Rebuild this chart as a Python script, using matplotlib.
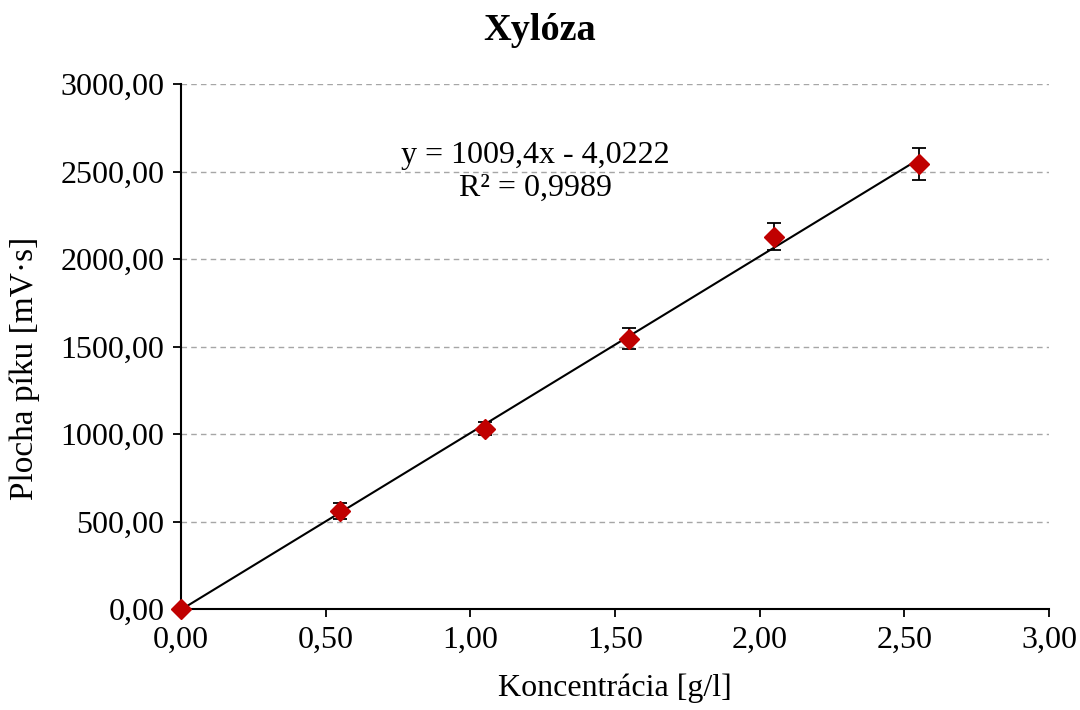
import matplotlib
matplotlib.use("Agg")
import matplotlib.pyplot as plt
import numpy as np

# data
conc = [0.0, 0.55, 1.05, 1.55, 2.05, 2.55]
area = [0.0, 560.0, 1029.0, 1543.0, 2126.0, 2543.0]
err = [0.0, 43.0, 37.0, 60.0, 77.0, 89.0]

slope = 1009.4
intercept = -4.0222
r2_text = "0,9989"

x_ticks = [0.0, 0.5, 1.0, 1.5, 2.0, 2.5, 3.0]
y_ticks = [0, 500, 1000, 1500, 2000, 2500, 3000]

plt.rcParams["font.family"] = ["Liberation Serif", "DejaVu Serif"]


def comma(v, _=None):
    return f"{v:.2f}".replace(".", ",")


fig = plt.figure(figsize=(10.8, 7.1), dpi=100)
ax = fig.add_axes([181 / 1080, 1 - 609 / 710, (1049 - 181) / 1080, (609 - 84) / 710])

for yt in y_ticks[1:]:
    ax.axhline(yt, color="#a6a6a6", linestyle=(0, (4, 3)), linewidth=1.0, zorder=0)

fit_x = np.array([0.0, conc[-1]])
ax.plot(fit_x, slope * fit_x + intercept, color="black", linewidth=1.5, zorder=2)

ax.errorbar(conc, area, yerr=err, fmt="none", ecolor="black", elinewidth=1.3,
            capsize=5, capthick=1.3, zorder=3)
ax.plot(conc, area, linestyle="none", marker="D", markersize=10,
        color="#c00000", zorder=4, clip_on=False)

ax.set_xlim(0, 3)
ax.set_ylim(0, 3000)
ax.set_xticks(x_ticks)
ax.set_yticks(y_ticks)
ax.xaxis.set_major_formatter(plt.FuncFormatter(comma))
ax.yaxis.set_major_formatter(plt.FuncFormatter(comma))
ax.tick_params(axis="both", direction="out", length=6, width=1.3, labelsize=23, pad=6)

for side in ("top", "right"):
    ax.spines[side].set_visible(False)
for side in ("left", "bottom"):
    ax.spines[side].set_linewidth(1.5)

fig.text(0.5, 1 - 40 / 710, "Xylóza", fontsize=27.5, fontweight="bold",
         ha="center", va="baseline")
ax.set_xlabel("Koncentrácia [g/l]", fontsize=23, va="center")
ax.xaxis.set_label_coords(0.5, (609 - 688) / 525)
ax.set_ylabel("Plocha píku [mV·s]", fontsize=24, va="center")
ax.yaxis.set_label_coords((25 - 181) / 868, (609 - 368) / 525)

eq = f"y = {slope:.1f}x - {abs(intercept):.4f}".replace(".", ",")
ax.text(1.224, 2594, eq, fontsize=23, ha="center", va="center")
ax.text(1.224, 2406, f"R² = {r2_text}", fontsize=23, ha="center", va="center")

fig.savefig("out.png", dpi=100)
